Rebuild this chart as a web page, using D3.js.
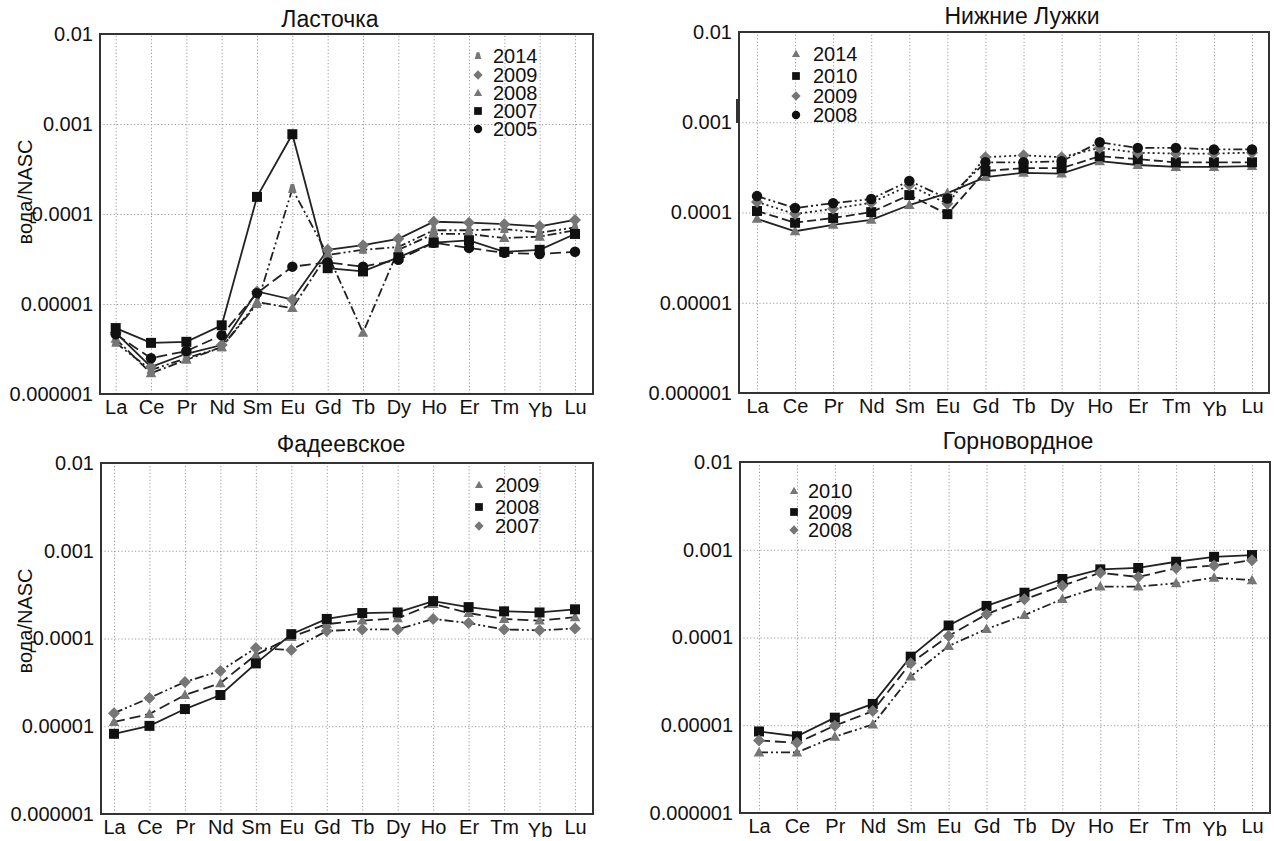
<!DOCTYPE html>
<html>
<head>
<meta charset="utf-8">
<script src="https://cdn.jsdelivr.net/npm/d3@7"></script>
<style>
  body { margin: 0; background: #fff; }
  svg { font-family: "Liberation Sans", Arial, sans-serif; }
</style>
</head>
<body>
<svg id="chart" width="1274" height="841"></svg>
<script>
// элементы (REE) и подписи оси Y
const elements = ["La", "Ce", "Pr", "Nd", "Sm", "Eu", "Gd", "Tb", "Dy", "Ho", "Er", "Tm", "Yb", "Lu"];
const yTickValues = [1e-2, 1e-3, 1e-4, 1e-5, 1e-6];
const yTickLabels = ["0.01", "0.001", "0.0001", "0.00001", "0.000001"];

// Ласточка
const lastochkaYears = ["2014", "2009", "2008", "2007", "2005"];
const lastochkaValues = [
  [3.7e-6, 1.85e-6, 2.5e-6, 3.3e-6, 1.0e-5, 1.9e-4, 3.5e-5, 4.0e-5, 4.3e-5, 6.6e-5, 6.6e-5, 6.8e-5, 6.2e-5, 7.1e-5],
  [4.8e-6, 2.0e-6, 2.8e-6, 3.5e-6, 1.38e-5, 1.12e-5, 4.0e-5, 4.5e-5, 5.3e-5, 8.2e-5, 8.0e-5, 7.7e-5, 7.3e-5, 8.6e-5],
  [4.1e-6, 1.7e-6, 2.4e-6, 3.3e-6, 1.05e-5, 9.0e-6, 3.6e-5, 4.8e-6, 4.0e-5, 6.0e-5, 6.0e-5, 5.4e-5, 5.6e-5, 6.6e-5],
  [5.4e-6, 3.7e-6, 3.8e-6, 5.8e-6, 1.55e-4, 7.7e-4, 2.5e-5, 2.3e-5, 3.3e-5, 4.8e-5, 5.1e-5, 3.8e-5, 4.0e-5, 6.0e-5],
  [4.6e-6, 2.5e-6, 3.0e-6, 4.5e-6, 1.32e-5, 2.6e-5, 2.9e-5, 2.6e-5, 3.1e-5, 4.8e-5, 4.2e-5, 3.7e-5, 3.6e-5, 3.8e-5]
];

// Нижние Лужки
const luzhkiYears = ["2014", "2010", "2009", "2008"];
const luzhkiValues = [
  [8.5e-5, 6.2e-5, 7.3e-5, 8.3e-5, 1.21e-4, 1.64e-4, 2.47e-4, 2.75e-4, 2.7e-4, 3.7e-4, 3.36e-4, 3.2e-4, 3.2e-4, 3.27e-4],
  [1.04e-4, 7.7e-5, 8.7e-5, 1.01e-4, 1.56e-4, 9.6e-5, 2.88e-4, 3.1e-4, 3.1e-4, 4.2e-4, 3.9e-4, 3.6e-4, 3.6e-4, 3.6e-4],
  [1.31e-4, 9.6e-5, 1.1e-4, 1.28e-4, 2.0e-4, 1.25e-4, 4.1e-4, 4.3e-4, 4.1e-4, 5.2e-4, 4.6e-4, 4.5e-4, 4.5e-4, 4.6e-4],
  [1.52e-4, 1.12e-4, 1.27e-4, 1.41e-4, 2.24e-4, 1.43e-4, 3.6e-4, 3.6e-4, 3.7e-4, 6.0e-4, 5.2e-4, 5.2e-4, 5.0e-4, 5.0e-4]
];

// Фадеевское
const fadeevYears = ["2009", "2008", "2007"];
const fadeevValues = [
  [1.12e-5, 1.38e-5, 2.27e-5, 3.1e-5, 6.5e-5, 1.04e-4, 1.46e-4, 1.6e-4, 1.7e-4, 2.47e-4, 1.95e-4, 1.67e-4, 1.6e-4, 1.75e-4],
  [8.2e-6, 1.01e-5, 1.57e-5, 2.27e-5, 5.2e-5, 1.12e-4, 1.67e-4, 1.95e-4, 1.98e-4, 2.67e-4, 2.28e-4, 2.04e-4, 1.98e-4, 2.15e-4],
  [1.41e-5, 2.1e-5, 3.2e-5, 4.27e-5, 7.8e-5, 7.4e-5, 1.22e-4, 1.27e-4, 1.27e-4, 1.67e-4, 1.5e-4, 1.27e-4, 1.24e-4, 1.3e-4]
];

// Горновордное
const gornoYears = ["2010", "2009", "2008"];
const gornoValues = [
  [4.9e-6, 4.9e-6, 7.4e-6, 1.02e-5, 3.6e-5, 8.0e-5, 1.25e-4, 1.8e-4, 2.75e-4, 3.8e-4, 3.8e-4, 4.15e-4, 4.8e-4, 4.5e-4],
  [8.5e-6, 7.5e-6, 1.22e-5, 1.75e-5, 6.05e-5, 1.37e-4, 2.29e-4, 3.24e-4, 4.64e-4, 5.98e-4, 6.2e-4, 7.3e-4, 8.3e-4, 8.7e-4],
  [6.7e-6, 6.3e-6, 9.9e-6, 1.45e-5, 5.1e-5, 1.04e-4, 1.84e-4, 2.72e-4, 3.9e-4, 5.47e-4, 4.9e-4, 6.15e-4, 6.6e-4, 7.6e-4]
];

// стили линий и маркеров
const dash = {
  solid: null,
  dashed: "9,4",
  longdash: "11,5",
  dashdot: "9,3,2,3",
  dashdotdot: "9,3,2,3,2,3",
  dotted: "2,3"
};
const gray = "#767676", black = "#111";

// собственные маркеры для d3.symbol
const symSquare = { draw(c, s) { const r = Math.sqrt(s) / 2; c.rect(-r, -r, 2 * r, 2 * r); } };
const symCircle = { draw(c, s) { const r = Math.sqrt(s) / 2; c.moveTo(r, 0); c.arc(0, 0, r, 0, 2 * Math.PI); } };
const symDiamond = { draw(c, s) { const r = Math.sqrt(s) / 2 * 1.2; c.moveTo(0, -r); c.lineTo(r, 0); c.lineTo(0, r); c.lineTo(-r, 0); c.closePath(); } };
const symTriangle = { draw(c, s) { const r = Math.sqrt(s) / 2; c.moveTo(0, -r * 1.1); c.lineTo(r * 1.05, r * 0.8); c.lineTo(-r * 1.05, r * 0.8); c.closePath(); } };
const symTrap = { draw(c, s) { const r = Math.sqrt(s) / 2; c.moveTo(-r * 0.35, -r); c.lineTo(r * 0.35, -r); c.lineTo(r * 0.85, r * 0.8); c.lineTo(-r * 0.85, r * 0.8); c.closePath(); } };

const mk = {
  sq: { type: symSquare, fill: black },
  ci: { type: symCircle, fill: black },
  di: { type: symDiamond, fill: gray },
  tr: { type: symTriangle, fill: gray },
  tz: { type: symTrap, fill: gray }
};

const panels = [
  {
    title: "Ласточка", tx: 330, ty: 27, l: 100, r: 593, t: 34, b: 394, x0: 115.7, x1: 575, ylabel: 192,
    years: lastochkaYears, values: lastochkaValues,
    styles: [["tz", "dashdotdot"], ["di", "solid"], ["tr", "dashdot"], ["sq", "solid"], ["ci", "longdash"]],
    legend: { mx: 478, tx: 493, ys: [56, 75, 93, 111, 129] }
  },
  {
    title: "Нижние Лужки", tx: 1022, ty: 24, l: 739, r: 1269, t: 32, b: 393, x0: 757, x1: 1252, ylabel: null,
    years: luzhkiYears, values: luzhkiValues,
    styles: [["tr", "solid"], ["sq", "dashed"], ["di", "dotted"], ["ci", "dashdotdot"]],
    legend: { mx: 796, tx: 813, ys: [54, 76, 96, 115] }
  },
  {
    title: "Фадеевское", tx: 341, ty: 452, l: 101, r: 593, t: 463, b: 814, x0: 114, x1: 575, ylabel: 621,
    years: fadeevYears, values: fadeevValues,
    styles: [["tr", "longdash"], ["sq", "solid"], ["di", "dashdotdot"]],
    legend: { mx: 479, tx: 495, ys: [485, 507, 526] }
  },
  {
    title: "Горновордное", tx: 1018, ty: 449, l: 740, r: 1270, t: 462, b: 813, x0: 759, x1: 1252, ylabel: null,
    years: gornoYears, values: gornoValues,
    styles: [["tr", "dashdotdot"], ["sq", "solid"], ["di", "longdash"]],
    legend: { mx: 794, tx: 808, ys: [491, 512, 530] }
  }
];

const svg = d3.select("#chart");

panels.forEach(p => {
  const g = svg.append("g");
  const x = d3.scalePoint().domain(elements).range([p.x0, p.x1]);
  const y = d3.scaleLog().domain([1e-6, 1e-2]).range([p.b, p.t]);

  // сетка
  g.append("g")
    .attr("transform", `translate(0,${p.b})`)
    .call(d3.axisBottom(x).tickSize(-(p.b - p.t)).tickFormat(""))
    .call(s => s.select(".domain").remove())
    .call(s => s.selectAll("line").attr("stroke", "#9a9a9a").attr("stroke-dasharray", "1.2,2.2"));
  g.append("g")
    .attr("transform", `translate(${p.l},0)`)
    .call(d3.axisLeft(y).tickValues(yTickValues).tickSize(-(p.r - p.l)).tickFormat(""))
    .call(s => s.select(".domain").remove())
    .call(s => s.selectAll("line").attr("stroke", "#9a9a9a").attr("stroke-dasharray", "1.2,2.2"));

  // рамка
  g.append("rect")
    .attr("x", p.l).attr("y", p.t)
    .attr("width", p.r - p.l).attr("height", p.b - p.t)
    .attr("fill", "none").attr("stroke", "#333").attr("stroke-width", 2);

  // подписи осей
  g.append("g")
    .attr("transform", `translate(${p.l - 4},0)`)
    .call(d3.axisLeft(y).tickValues(yTickValues).tickSize(0).tickFormat((d, i) => yTickLabels[i]))
    .call(s => s.select(".domain").remove())
    .call(s => s.selectAll("text").attr("font-size", 20).attr("font-family", null).attr("fill", "#111"));
  g.append("g")
    .attr("transform", `translate(0,${p.b + 3})`)
    .call(d3.axisBottom(x).tickSize(0))
    .call(s => s.select(".domain").remove())
    .call(s => s.selectAll("text").attr("font-size", 20).attr("font-family", null).attr("fill", "#111")
      .attr("dy", d => d === "Yb" ? "0.85em" : "0.72em"));

  g.append("text")
    .attr("x", p.tx).attr("y", p.ty)
    .attr("text-anchor", "middle")
    .attr("font-size", 23)
    .attr("fill", "#111")
    .text(p.title);

  if (p.ylabel) {
    g.append("text")
      .attr("transform", `translate(32,${p.ylabel}) rotate(-90)`)
      .attr("text-anchor", "middle")
      .attr("font-size", 20)
      .attr("fill", "#111")
      .text("вода/NASC");
  }

  // серии
  const line = d3.line().x((d, i) => x(elements[i])).y(d => y(d));
  p.values.forEach((vals, k) => {
    const [m, ds] = p.styles[k];
    g.append("path")
      .attr("d", line(vals))
      .attr("fill", "none")
      .attr("stroke", "#222")
      .attr("stroke-width", 1.8)
      .attr("stroke-dasharray", dash[ds]);
  });
  p.values.forEach((vals, k) => {
    const [m] = p.styles[k];
    const sym = d3.symbol().type(mk[m].type).size(m === "ci" ? 110 : 100);
    g.append("g").selectAll("path")
      .data(vals)
      .join("path")
      .attr("transform", (d, i) => `translate(${x(elements[i])},${y(d)})`)
      .attr("d", sym)
      .attr("fill", mk[m].fill);
  });

  // легенда
  p.years.forEach((yr, k) => {
    const [m] = p.styles[k];
    const ly = p.legend.ys[k];
    g.append("path")
      .attr("transform", `translate(${p.legend.mx},${ly})`)
      .attr("d", d3.symbol().type(mk[m].type).size(m === "ci" ? 70 : 60)())
      .attr("fill", mk[m].fill);
    g.append("text")
      .attr("x", p.legend.tx).attr("y", ly)
      .attr("dy", "0.36em")
      .attr("font-size", 20)
      .attr("fill", "#111")
      .text(yr);
  });
});

// небольшой излом оси на графике «Нижние Лужки»
svg.append("line")
  .attr("x1", 737).attr("x2", 737).attr("y1", 99).attr("y2", 123)
  .attr("stroke", "#333").attr("stroke-width", 2);
</script>
</body>
</html>
